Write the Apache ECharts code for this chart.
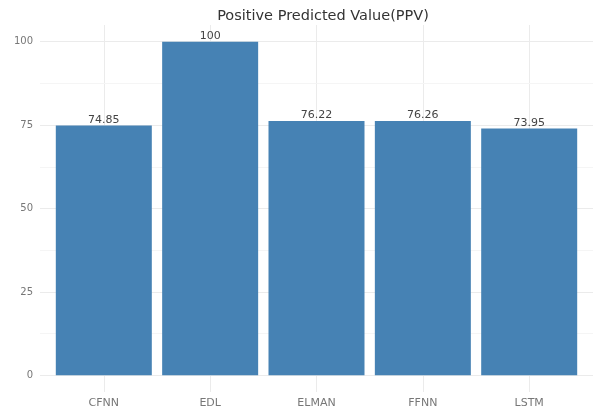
<!DOCTYPE html>
<html>
<head>
<meta charset="utf-8">
<script src="https://cdn.jsdelivr.net/npm/echarts@6/dist/echarts.min.js"></script>
<style>
  html, body { margin: 0; padding: 0; background: #fff; }
  #chart { width: 593px; height: 413px; }
</style>
</head>
<body>
<div id="chart"></div>
<script>
const models = ["CFNN", "EDL", "ELMAN", "FFNN", "LSTM"];
const ppv = [74.85, 100, 76.22, 76.26, 73.95];
const yTicks = [0, 25, 50, 75, 100];
const yMinor = [12.5, 37.5, 62.5, 87.5];
const xTicks = [1, 2, 3, 4, 5];

const chart = echarts.init(document.getElementById("chart"));
const font = "DejaVu Sans, Verdana, sans-serif";

chart.setOption({
  animation: false,
  backgroundColor: "#fff",
  title: {
    text: "Positive Predicted Value(PPV)",
    left: 318,
    textAlign: "center",
    top: 4,
    textStyle: { color: "#333", fontSize: 14.5, fontWeight: "normal", fontFamily: font }
  },
  grid: { left: 40, right: -2, top: 25, bottom: 21 },
  xAxis: {
    type: "value",
    min: 0.4,
    max: 5.6,
    axisLine: { show: false },
    axisTick: { show: false, customValues: xTicks },
    axisLabel: {
      customValues: xTicks,
      margin: 6,
      color: "#777",
      fontSize: 11,
      fontFamily: font,
      formatter: v => models[Math.round(v) - 1]
    },
    splitLine: { show: true, lineStyle: { color: "#ebebeb", width: 1 } }
  },
  yAxis: {
    type: "value",
    min: -5,
    max: 105,
    axisLine: { show: false },
    axisTick: { show: false, customValues: yTicks },
    axisLabel: { customValues: yTicks, margin: 7, color: "#777", fontSize: 10, fontFamily: font },
    splitLine: { show: true, lineStyle: { color: "#ebebeb", width: 1 } }
  },
  series: [{
    type: "bar",
    data: ppv.map((v, i) => [i + 1, v]),
    barWidth: 96,
    itemStyle: { color: "#4682B4" },
    label: {
      show: true,
      position: "top",
      distance: 0,
      color: "#444",
      fontSize: 11,
      fontFamily: font,
      formatter: p => String(p.value[1])
    },
    markLine: {
      silent: true,
      z: 1,
      symbol: "none",
      label: { show: false },
      lineStyle: { color: "#f5f5f5", type: "solid", width: 1 },
      data: yMinor.map(v => ({ yAxis: v }))
    },
    z: 3
  }]
});
</script>
</body>
</html>
